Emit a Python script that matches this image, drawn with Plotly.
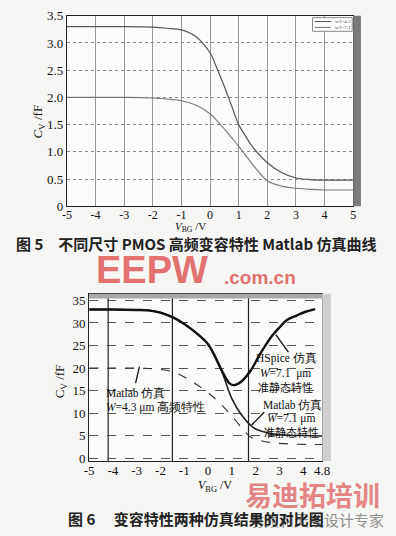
import plotly.graph_objects as go

# ---------- Figure 5 data ----------
x_top = [-5, -4, -3, -2, -1.5, -1, -0.5, 0, 0.25, 0.5, 0.75, 1, 1.25, 1.5, 2, 2.5, 3, 3.5, 4, 5]
cv_upper = [3.30, 3.30, 3.30, 3.29, 3.27, 3.24, 3.12, 2.82, 2.52, 2.20, 1.85, 1.50, 1.28, 1.08, 0.80, 0.62, 0.52, 0.49, 0.48, 0.48]
cv_lower = [2.00, 2.00, 2.00, 1.99, 1.97, 1.94, 1.86, 1.70, 1.57, 1.42, 1.26, 1.10, 0.93, 0.76, 0.47, 0.37, 0.33, 0.31, 0.30, 0.30]
legend_names = ["w/l=4.3", "w/l=7.1"]
top_xticks = [-5, -4, -3, -2, -1, 0, 1, 2, 3, 4, 5]
top_xtext = ["-5", "-4", "-3", "-2", "-1", "0", "1", "2", "3", "4", "5"]
top_yticks = [0, 0.5, 1.0, 1.5, 2.0, 2.5, 3.0, 3.5]
top_ytext = ["0", "0.5", "1.0", "1.5", "2.0", "2.5", "3.0", "3.5"]

# ---------- Figure 6 data ----------
x_hspice = [-5, -4, -3, -2.5, -2, -1.5, -1, -0.5, 0, 0.3, 0.6, 0.9, 1.1, 1.4, 1.8, 2.1, 2.4, 2.7, 3.0, 3.3, 3.7, 4.1, 4.5]
cv_hspice = [33.0, 33.0, 32.9, 32.8, 32.3, 31.3, 29.8, 27.8, 25.3, 22.5, 19.2, 16.6, 16.2, 17.0, 19.5, 22.3, 24.9, 27.2, 29.0, 30.6, 31.6, 32.5, 33.1]
x_m71 = [-5, -4, -3, -2.5, -2, -1.5, -1, -0.5, 0, 0.3, 0.6, 1.0, 1.4, 1.8, 2.1, 2.5, 3.0, 3.5, 4.0, 4.8]
cv_m71 = [33.0, 33.0, 32.9, 32.8, 32.3, 31.3, 29.8, 27.8, 25.3, 22.3, 18.9, 13.2, 9.6, 7.2, 6.2, 5.6, 5.2, 5.0, 5.0, 4.9]
x_m43 = [-5, -4, -3, -2.5, -2, -1.5, -1, -0.5, 0, 0.5, 1.0, 1.5, 1.8, 2.2, 2.7, 3.5, 4.8]
cv_m43 = [20.0, 20.0, 20.0, 19.9, 19.7, 19.2, 18.0, 16.4, 14.5, 12.2, 9.3, 6.2, 4.6, 3.9, 3.4, 3.1, 3.0]
bot_xticks = [-5, -4, -3, -2, -1, 0, 1, 2, 3, 4, 4.8]
bot_xtext = ["-5", "-4", "-3", "-2", "-1", "0", "1", "2", "3", "4", "4.8"]
bot_yticks = [0, 5, 10, 15, 20, 25, 30, 35]
bot_vgrid = [-4.2, -1.5, 1.7]

W, H = 396, 536
def px(x):
    return x / W
def py(y):
    return 1 - y / H

SERIF = "Liberation Serif, Times New Roman, serif"
CJK = "Noto Sans CJK SC"

fig = go.Figure()
fig.add_trace(go.Scatter(x=x_top, y=cv_upper, mode="lines", name=legend_names[0], showlegend=False,
                         line=dict(color="#555", width=1.2, shape="spline"), xaxis="x", yaxis="y"))
fig.add_trace(go.Scatter(x=x_top, y=cv_lower, mode="lines", name=legend_names[1], showlegend=False,
                         line=dict(color="#777", width=1.1, shape="spline"), xaxis="x", yaxis="y"))
fig.add_trace(go.Scatter(x=x_m43, y=cv_m43, mode="lines", showlegend=False,
                         line=dict(color="#333", width=1.1, dash="dash", shape="spline"), xaxis="x2", yaxis="y2"))
fig.add_trace(go.Scatter(x=x_m71, y=cv_m71, mode="lines", showlegend=False,
                         line=dict(color="#222", width=1.6, shape="spline"), xaxis="x2", yaxis="y2"))
fig.add_trace(go.Scatter(x=x_hspice, y=cv_hspice, mode="lines", showlegend=False,
                         line=dict(color="#111", width=2.4, shape="spline"), xaxis="x2", yaxis="y2"))

tickfont = dict(family=SERIF, size=12, color="#111")
fig.update_layout(
    width=W, height=H, margin=dict(l=0, r=0, t=0, b=0),
    paper_bgcolor="#f6f6f4", plot_bgcolor="#fbfbfa",
    xaxis=dict(domain=[px(64), px(360)], range=[-5, 5], anchor="y",
               tickvals=top_xticks, ticktext=top_xtext, ticks="", tickfont=tickfont, ticklabelstandoff=-3,
               showgrid=True, gridcolor="#999", gridwidth=1,
               showline=True, linecolor="#222", linewidth=1.2, mirror=True, zeroline=False),
    yaxis=dict(domain=[py(205), py(9)], range=[0, 3.5], anchor="x",
               tickvals=top_yticks, ticktext=top_ytext, ticks="", tickfont=dict(family=SERIF, size=13, color="#111"),
               showgrid=True, gridcolor="#888", griddash="dot", gridwidth=1,
               showline=True, linecolor="#222", linewidth=1.2, mirror=True, zeroline=False),
    xaxis2=dict(domain=[px(87), px(328)], range=[-5, 4.8], anchor="y2",
                tickvals=bot_xticks, ticktext=bot_xtext, ticks="", ticklabelstandoff=-3,
                tickfont=dict(family=SERIF, size=13, color="#111"),
                showgrid=False, showline=True, linecolor="#222", linewidth=1.2, mirror=True, zeroline=False),
    yaxis2=dict(domain=[py(467), py(295)], range=[-0.65, 36.5], anchor="x2",
                tickvals=bot_yticks, ticks="", tickfont=dict(family=SERIF, size=13, color="#111"),
                showgrid=True, gridcolor="#555", griddash="dash", gridwidth=1,
                showline=True, linecolor="#222", linewidth=1.2, mirror=True, zeroline=False),
    showlegend=False,
)

shapes = []
for v in bot_vgrid:
    shapes.append(dict(type="line", xref="x2", yref="y2 domain", x0=v, x1=v, y0=0, y1=1,
                       line=dict(color="#222", width=1.2), layer="below"))
# decorative scanner bars
shapes.append(dict(type="rect", xref="paper", yref="paper", x0=px(360), x1=px(368), y0=py(205), y1=py(9),
                   fillcolor="#7a7a7a", line=dict(width=0)))
shapes.append(dict(type="rect", xref="paper", yref="paper", x0=px(87), x1=px(330), y0=py(300), y1=py(295),
                   fillcolor="#a8a8a8", line=dict(width=0)))
shapes.append(dict(type="rect", xref="paper", yref="paper", x0=px(328), x1=px(337), y0=py(467), y1=py(295),
                   fillcolor="#cfcfcf", line=dict(width=0)))
# leader lines
for (a, b, c, d) in [(293, 355, 280, 337), (135, 387, 139, 370), (268, 417, 255, 430)]:
    shapes.append(dict(type="line", xref="paper", yref="paper", x0=px(a), y0=py(b), x1=px(c), y1=py(d),
                       line=dict(color="#111", width=1.3)))
# small legend box of figure 5
shapes.append(dict(type="rect", xref="paper", yref="paper", x0=px(318), x1=px(359), y0=py(25), y1=py(11),
                   fillcolor="#ffffff", line=dict(color="#888", width=1)))
shapes.append(dict(type="line", xref="paper", yref="paper", x0=px(320), x1=px(337), y0=py(15), y1=py(15),
                   line=dict(color="#555", width=1)))
shapes.append(dict(type="line", xref="paper", yref="paper", x0=px(320), x1=px(337), y0=py(21), y1=py(21),
                   line=dict(color="#777", width=1)))
fig.update_layout(shapes=shapes)

ann = []
def t(x, y, text, size=12, family=SERIF, color="#111", xanchor="center", angle=0, opacity=1.0):
    ann.append(dict(x=px(x), y=py(y), xref="paper", yref="paper", text=text, showarrow=False,
                    xanchor=xanchor, yanchor="middle", textangle=angle, opacity=opacity,
                    font=dict(family=family, size=size, color=color)))

# legend texts
t(339, 15, legend_names[0], size=5, xanchor="left", color="#333")
t(339, 21, legend_names[1], size=5, xanchor="left", color="#333")

# axis titles
t(35, 118, "<i>C</i><sub>V</sub> /fF", size=13, angle=-90)
t(192, 226, "<i>V</i><sub>BG</sub> /V", size=11)
t(57, 385, "C<sub>V</sub> /fF", size=13, angle=-90)
t(217, 493, "<i>V</i><sub>BG</sub> /V", size=12)

# watermarks
t(152, 271, "<b>EEPW</b>", size=38, family="Liberation Sans, Arial", color="#e05a5a", opacity=0.85)
t(264, 278, "<b>.com.cn</b>", size=19, family="Liberation Sans, Arial", color="#e05a5a", opacity=0.85)
t(318, 502, "<b>易迪拓培训</b>", size=27, family=CJK, color="#e06a6a", opacity=0.8)
t(322, 527, "射频和天线设计专家", size=15, family=CJK, color="#777", opacity=0.8)

# captions
t(198, 243, "<b>图 5　不同尺寸 PMOS 高频变容特性 Matlab 仿真曲线</b>", size=15, family=CJK, color="#222")
t(197, 526, "<b>图 6　 变容特性两种仿真结果的对比图</b>", size=15, family=CJK, color="#222")

# bottom chart labels
t(291, 362, "HSpice 仿真", size=11.5)
t(290, 377, "<i>W</i>=7.1  μm", size=11.5)
t(290, 391, "准静态特性", size=11, family=CJK)
t(102, 397, "Matlab 仿真", size=11.5, xanchor="left")
t(102, 412, "<i>W</i>=4.3 μm 高频特性", size=11.5, xanchor="left")
t(297, 409, "Matlab 仿真", size=11.5)
t(296, 423, "<i>W</i>=7.1 μm", size=11.5)
t(296, 437, "准静态特性", size=11, family=CJK)

fig.update_layout(annotations=ann)
fig.write_html("out.html")
